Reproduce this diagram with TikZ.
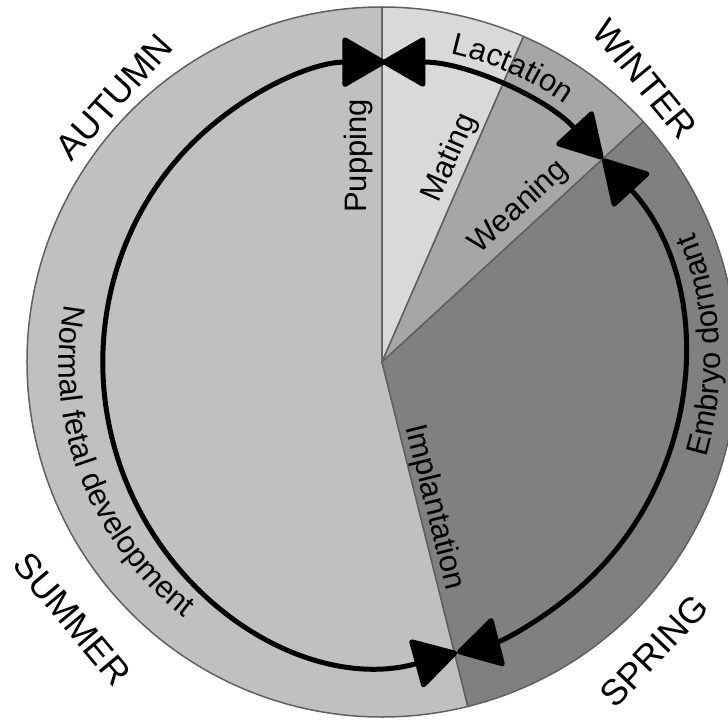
\documentclass[tikz,border=0pt]{standalone}
\usepackage{fontspec}
\setmainfont{Liberation Sans}
\usetikzlibrary{arrows.meta,decorations.text}
\definecolor{cNormal}{RGB}{192,192,192}
\definecolor{cMating}{RGB}{217,217,217}
\definecolor{cWean}{RGB}{166,166,166}
\definecolor{cEmbryo}{RGB}{128,128,128}
\definecolor{cEdge}{RGB}{96,96,96}
\newcommand\labfont{\fontsize{31}{36}\selectfont}
\newcommand\seasonfont{\fontsize{36}{42}\selectfont}
\begin{document}
\begin{tikzpicture}[x=1pt,y=1pt,
  sector/.style={draw=cEdge, line width=1.5pt, line join=round},
  cyc/.style={line width=5pt, {Triangle[length=46pt,width=52pt,round]}-{Triangle[length=46pt,width=52pt,round]}},
  lab/.style={font=\labfont, inner sep=0pt},
  season/.style={font=\seasonfont, inner sep=0pt}]
\useasboundingbox (-382,-358) rectangle (346,362);
\coordinate (O) at (0,0);
% sectors
\filldraw[sector, fill=cNormal] (O) -- (90:355) arc[start angle=90,end angle=284,radius=355] -- cycle;
\filldraw[sector, fill=cMating] (O) -- (66.5:355) arc[start angle=66.5,end angle=90,radius=355] -- cycle;
\filldraw[sector, fill=cWean] (O) -- (42.6:355) arc[start angle=42.6,end angle=66.5,radius=355] -- cycle;
\filldraw[sector, fill=cEmbryo] (O) -- (-76:355) arc[start angle=-76,end angle=42.6,radius=355] -- cycle;
% curved labels
\path[decorate, decoration={text along path, text align=center, text={|\labfont|Normal fetal development}}]
  (160:323) arc[start angle=160, end angle=242, radius=323];
\path[decorate, decoration={text along path, text align=center, text={|\labfont|Embryo dormant}}]
  (-27:338) arc[start angle=-27, end angle=33, radius=338];
\path[decorate, decoration={text along path, text align=center, text={|\labfont|Lactation}}]
  (86:316) arc[start angle=86, end angle=46, radius=316];
% straight labels
\node[lab, rotate=90] (pupping) at (-23.5,206) {Pupping};
\node[lab, rotate=66.5] (mating) at (68,204) {Mating};
\node[lab, rotate=42.6] (weaning) at (137,154.5) {Weaning};
\node[lab, rotate=-76] (implant) at (52,-145) {Implantation};
% seasons
\node[season, rotate=48] (autumn) at (-268,265) {AUTUMN};
\node[season, rotate=-50.6] (winter) at (263,283) {WINTER};
\node[season, rotate=-50] (summer) at (-310,-257) {SUMMER};
\node[season, rotate=46.5] (spring) at (272,-289) {SPRING};
% cycle arrows
\coordinate (jTop) at (90:300);
\coordinate (jWin) at (42.6:300);
\coordinate (jSpr) at (-75.5:300);
\draw[cyc] (jTop) arc[start angle=90, end angle=42.6, radius=300];
\draw[cyc] (jWin) arc[start angle=42.6, end angle=-75.5, radius=300];
\draw[cyc] (jSpr) arc[start angle=284.6, end angle=90, x radius=283, y radius=300];
\end{tikzpicture}
\end{document}
